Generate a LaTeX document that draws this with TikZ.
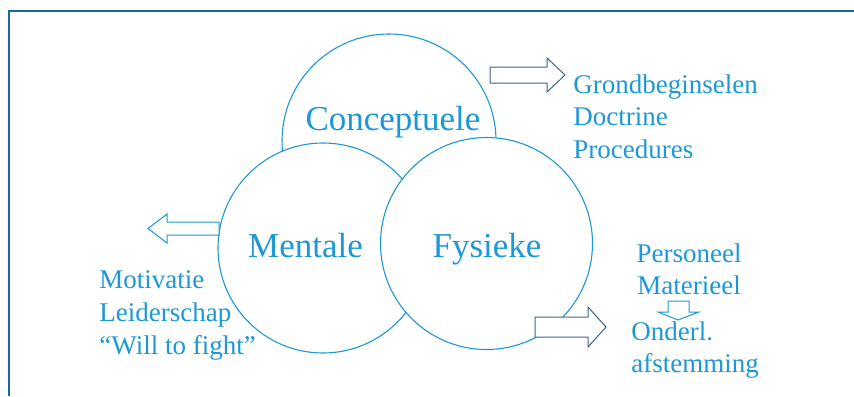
\documentclass[tikz,border=0pt]{standalone}
\usepackage{fontspec}
\setmainfont{Liberation Serif}
\usetikzlibrary{calc}
\definecolor{pale}{RGB}{28,152,214}
\definecolor{ink}{RGB}{22,104,160}
\definecolor{dull}{RGB}{60,100,140}

\begin{document}
\begin{tikzpicture}[x=0.5pt,y=-0.5pt,
    ring/.style={circle,draw=pale,fill=white,line width=0.55pt,inner sep=0pt},
    bigtext/.style={text=pale,font=\fontsize{17.5}{21}\selectfont,inner sep=0pt,anchor=base},
    sidetext/.style={text=pale,font=\fontsize{13.5}{16.5}\selectfont,inner sep=0pt},
    hollow/.style={draw=#1,fill=white,line width=0.5pt,line join=miter},
    hollow/.default=pale]
        \useasboundingbox (0,0) rectangle (854,396);
        \draw[ink,line width=1pt] (8.5,396) -- (8.5,10.5) -- (854,10.5);
        % circles, back to front
        \node[ring,minimum size=107pt] (conc) at (389,141) {};
        \node[ring,minimum size=105pt] (ment) at (323,248) {};
        \node[ring,minimum size=106pt] (fys) at (486.5,243.5) {};
        \node[bigtext] (conclbl) at (393,130) {Conceptuele};
        \node[bigtext] (mentlbl) at (305.5,257) {Mentale};
        \node[bigtext] (fyslbl) at (487,257) {Fysieke};
        % block arrows
        \draw[hollow=dull] (490,67) -- (547,67) -- (547,58) -- (565,75)
            -- (547,92) -- (547,83) -- (490,83) -- cycle;
        \draw[hollow] (219,222) -- (167,222) -- (167,214) -- (148,228.5)
            -- (167,243) -- (167,235) -- (219,235) -- cycle;
        \draw[hollow=dull] (535,317) -- (588,317) -- (588,307) -- (606,327)
            -- (588,347) -- (588,337) -- (535,337) -- cycle;
        \draw[hollow] (668,301) -- (668,312) -- (658,312) -- (678,320)
            -- (699,312) -- (689,312) -- (689,301) -- cycle;
        % side texts
        \foreach \txt [count=\i] in {Grondbeginselen, Doctrine, Procedures}
        \node[sidetext,anchor=base west] (conc\i) at (573,{93+32.5*(\i-1)}) {\txt};
        \foreach \txt [count=\i] in {Motivatie, Leiderschap, {“Will to fight”}}
        \node[sidetext,anchor=base west] (ment\i) at (99,{288+33*(\i-1)}) {\txt};
        \foreach \txt [count=\i] in {Personeel, Materieel}
        \node[sidetext,anchor=base] (fys\i) at (689,{262+32*(\i-1)}) {\txt};
        \foreach \txt [count=\i] in {Onderl., afstemming}
        \node[sidetext,anchor=base west] (afst\i) at (631,{340+32*(\i-1)}) {\txt};
    \end{tikzpicture}
\end{document}
